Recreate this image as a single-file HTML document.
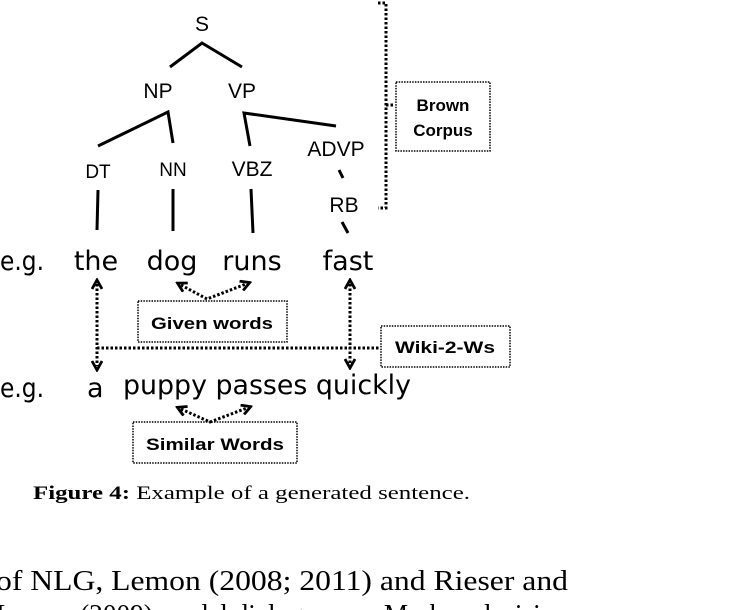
<!DOCTYPE html>
<html><head><meta charset="utf-8"><style>
html,body{margin:0;padding:0;background:#fff;width:744px;height:610px;overflow:hidden}
svg{display:block}
.t{font-family:"Liberation Sans",sans-serif;font-size:21px;fill:#000}
.w{font-family:"DejaVu Sans","Liberation Sans",sans-serif;font-size:27px;fill:#000}
.b{font-family:"Liberation Sans",sans-serif;font-weight:bold;font-size:17px;fill:#000}
.s{stroke:#000;stroke-width:3;fill:none}
.d{stroke:#000;stroke-width:3;fill:none;stroke-dasharray:2.5 2}
.bx{stroke:#000;stroke-width:1.5;fill:none;stroke-dasharray:1.5 1.2}
</style></head><body>
<svg width="744" height="610" viewBox="0 0 744 610">
<defs>
<marker id="h" viewBox="0 0 12 12" markerWidth="12" markerHeight="12" refX="6" refY="6" orient="auto-start-reverse" markerUnits="userSpaceOnUse"><path d="M1,1 L10,6 L1,11" fill="none" stroke="#000" stroke-width="2.8"/></marker></defs>
<g class="t" text-anchor="middle">
<text x="202" y="31">S</text>
<text x="158" y="98">NP</text><text x="242" y="98">VP</text>
<text x="98" y="178" font-size="19">DT</text><text x="173" y="176" font-size="19">NN</text><text x="252" y="176">VBZ</text>
<text x="336" y="156">ADVP</text><text x="344" y="212">RB</text>
</g>
<g class="s">
<path d="M170,67 L202,43 L242,67"/>
<path d="M98,146 L168,112 L173,143"/>
<path d="M250,146 L244,113 L336,126"/>
<path d="M339,170 L343,178"/><path d="M342,222 L348,233"/>
<path d="M98,190 L97,230"/><path d="M173,189 L173,231"/><path d="M251,189 L253,233"/>
</g>
<g class="w">
<text x="0" y="270" textLength="44" lengthAdjust="spacingAndGlyphs">e.g.</text>
<text x="96" y="270" text-anchor="middle">the</text>
<text x="172" y="270" text-anchor="middle">dog</text>
<text x="252" y="270" text-anchor="middle">runs</text>
<text x="348" y="270" text-anchor="middle">fast</text>
<text x="0" y="397" textLength="44" lengthAdjust="spacingAndGlyphs">e.g.</text>
<text x="87" y="397">a</text>
<text x="123" y="394" textLength="288" lengthAdjust="spacingAndGlyphs">puppy passes quickly</text>
</g>
<path class="d" d="M378,3 L386,3 L386,208 L378,208"/>
<path class="d" d="M386,105 L395,105"/>
<rect class="bx" x="396" y="82" width="94" height="69"/>
<text class="b" x="443" y="111" text-anchor="middle">Brown</text>
<text class="b" x="443" y="136" text-anchor="middle">Corpus</text>
<path class="d" d="M97,284 L97,366" marker-start="url(#h)" marker-end="url(#h)"/>
<path class="d" d="M350,284 L350,364" marker-start="url(#h)" marker-end="url(#h)"/>
<path class="d" d="M97,348 L380,348"/>
<rect class="bx" x="381" y="326" width="129" height="41"/>
<text class="b" x="445" y="353" text-anchor="middle" textLength="100" lengthAdjust="spacingAndGlyphs">Wiki-2-Ws</text>
<path class="d" d="M181,285 L207,299 L246,284" marker-start="url(#h)" marker-end="url(#h)"/>
<rect class="bx" x="138" y="301" width="149" height="41"/>
<text class="b" x="212" y="329" text-anchor="middle" textLength="122" lengthAdjust="spacingAndGlyphs">Given words</text>
<path class="d" d="M181,409 L210,422 L247,408" marker-start="url(#h)" marker-end="url(#h)"/>
<rect class="bx" x="133" y="422" width="164" height="41"/>
<text class="b" x="215" y="450" text-anchor="middle" textLength="138" lengthAdjust="spacingAndGlyphs">Similar Words</text>
<text x="33" y="499" font-family="Liberation Serif,serif" font-size="19" textLength="437" lengthAdjust="spacingAndGlyphs"><tspan font-weight="bold">Figure 4:</tspan> Example of a generated sentence.</text>
<text x="-4" y="590" font-family="Liberation Serif,serif" font-size="28" textLength="572" lengthAdjust="spacingAndGlyphs">of NLG, Lemon (2008; 2011) and Rieser and</text>
<text x="-4" y="624" font-family="Liberation Serif,serif" font-size="28" fill="#000" textLength="572" lengthAdjust="spacingAndGlyphs">Lemon (2009) model dialogue as a Markov decision</text>
</svg>
</body></html>
